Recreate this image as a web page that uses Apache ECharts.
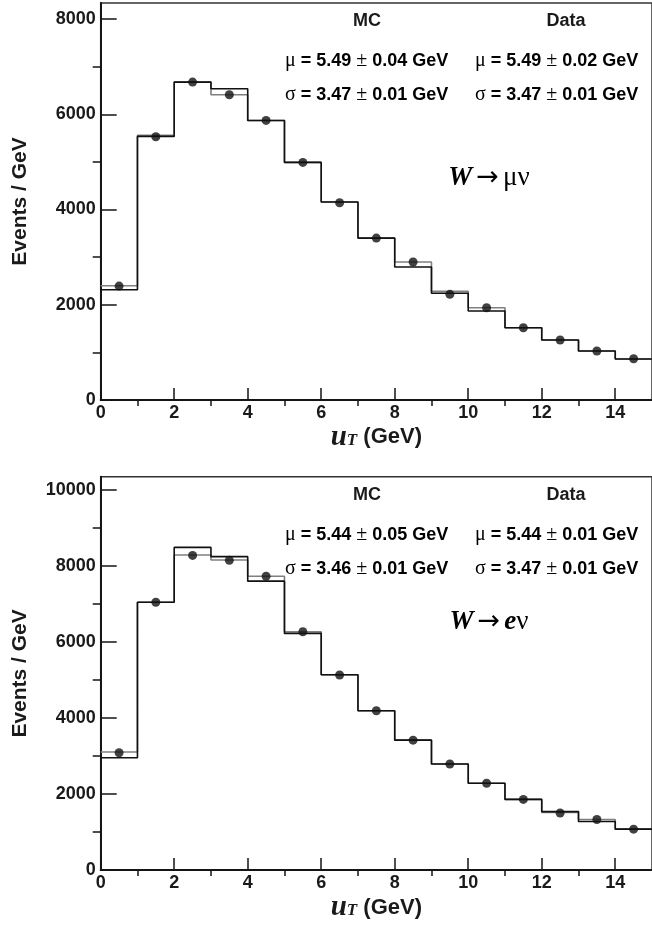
<!DOCTYPE html>
<html><head><meta charset="utf-8">
<script src="https://cdn.jsdelivr.net/npm/echarts@6/dist/echarts.min.js"></script>
<style>html,body{margin:0;padding:0;background:#fff}#c{width:652px;height:930px}</style>
</head><body><div id="c"></div>
<script>
// ---- data ----
const binEdges = [0,1,2,3,4,5,6,7,8,9,10,11,12,13,14,15];
const binCenters = [0.5,1.5,2.5,3.5,4.5,5.5,6.5,7.5,8.5,9.5,10.5,11.5,12.5,13.5,14.5];
const xMinorTicks = [1,3,5,7,9,11,13];

// W -> mu nu panel
const muPoints    = [2392,5527,6675,6409,5870,4989,4142,3400,2897,2218,1938,1518,1259,1028,866];
const muHistGray  = [2399,5556,6675,6409,5870,4989,4156,3400,2897,2281,1938,1518,1259,1028,861];
const muHistBlack = [2315,5535,6675,6535,5870,4989,4156,3400,2792,2240,1868,1518,1259,1028,861];
const muYMinorTicks = [1000,3000,5000,7000];
const muStatsMC   = ['5.49','0.04','3.47','0.01'];
const muStatsData = ['5.49','0.02','3.47','0.01'];

// W -> e nu panel
const ePoints    = [3087,7045,8277,8147,7730,6270,5130,4190,3418,2792,2285,1860,1503,1330,1077];
const eHistGray  = [3105,7045,8286,8156,7730,6270,5139,4190,3418,2792,2285,1860,1515,1330,1077];
const eHistBlack = [2956,7045,8487,8244,7600,6226,5139,4190,3418,2792,2285,1860,1539,1278,1077];
const eYMinorTicks = [1000,3000,5000,7000,9000];
const eStatsMC   = ['5.44','0.05','3.46','0.01'];
const eStatsData = ['5.44','0.01','3.47','0.01'];

// ---- layout / style ----
const SANS = 'Liberation Sans';
const SERIF = 'Liberation Serif';
const panels = [
  {top: 3, height: 397, ymax: 8336, pts: muPoints, gray: muHistGray, black: muHistBlack, minor: muYMinorTicks, mc: muStatsMC, dt: muStatsData, proc: 'mu', procY: 178},
  {top: 476.7, height: 397, ymax: 10347, pts: ePoints, gray: eHistGray, black: eHistBlack, minor: eYMinorTicks, mc: eStatsMC, dt: eStatsData, proc: 'e', procY: 622}
];
const gridLeft = 100.7, gridWidth = 553.5;

function steps(vals){ return binEdges.map((e,i)=>[e, vals[Math.min(i, vals.length-1)]]); }

const grid = [], xAxis = [], yAxis = [], series = [], graphic = [];
const axisCol = '#151515';
const txtCol = '#1a1a1a';
panels.forEach((p, k) => {
  grid.push({left: gridLeft, top: p.top, width: gridWidth, height: p.height, show: true, borderColor: '#333', borderWidth: 1.5, backgroundColor: 'transparent'});
  xAxis.push({
    type: 'value', gridIndex: k, min: 0, max: 15, interval: 2,
    axisLine: {show: true, onZero: false, lineStyle: {color: axisCol, width: 2}},
    axisTick: {show: true, inside: true, length: 12, lineStyle: {color: axisCol, width: 1.5}},
    splitLine: {show: false},
    axisLabel: {fontFamily: SANS, fontWeight: 'bold', fontSize: 18, color: txtCol, margin: 4, showMaxLabel: false,
      formatter: v => String(v)},
    name: '{u|u}{t|T}{g| (GeV)}', nameLocation: 'middle', nameGap: 25,
    nameTextStyle: {rich: {
      u: {fontFamily: SERIF, fontStyle: 'italic', fontWeight: 'bold', fontSize: 29, lineHeight: 26, padding: [0,0,7,0], color: txtCol},
      t: {fontFamily: SERIF, fontStyle: 'italic', fontWeight: 'bold', fontSize: 17, lineHeight: 17, color: txtCol},
      g: {fontFamily: SANS, fontWeight: 'bold', fontSize: 22, lineHeight: 26, padding: [0,0,7,0], color: txtCol}
    }}
  });
  xAxis.push({
    type: 'value', gridIndex: k, min: 0, max: 15,
    axisLine: {show: false}, splitLine: {show: false}, axisLabel: {show: false},
    axisTick: {show: true, inside: true, length: 6, customValues: xMinorTicks, lineStyle: {color: axisCol, width: 1.5}}
  });
  yAxis.push({
    type: 'value', gridIndex: k, min: 0, max: p.ymax, interval: 2000,
    axisLine: {show: true, onZero: false, lineStyle: {color: axisCol, width: 2}},
    axisTick: {show: true, inside: true, length: 16, lineStyle: {color: axisCol, width: 1.5}},
    splitLine: {show: false},
    axisLabel: {fontFamily: SANS, fontWeight: 'bold', fontSize: 18, color: txtCol, margin: 5, showMaxLabel: false,
      formatter: v => String(v)},
    name: 'Events / GeV', nameLocation: 'middle', nameGap: 70,
    nameTextStyle: {fontFamily: SANS, fontWeight: 'bold', fontSize: 21, color: txtCol}
  });
  yAxis.push({
    type: 'value', gridIndex: k, min: 0, max: p.ymax,
    axisLine: {show: false}, splitLine: {show: false}, axisLabel: {show: false},
    axisTick: {show: true, inside: true, length: 8, customValues: p.minor, lineStyle: {color: axisCol, width: 1.5}}
  });
  const xi = 2*k, yi = 2*k;
  series.push({type: 'line', xAxisIndex: xi, yAxisIndex: yi, step: 'end', data: steps(p.gray), symbol: 'none',
    lineStyle: {color: '#808080', width: 1.6}, z: 2});
  series.push({type: 'line', xAxisIndex: xi, yAxisIndex: yi, step: 'end', data: steps(p.black), symbol: 'none',
    lineStyle: {color: '#111', width: 1.6}, z: 3});
  series.push({type: 'scatter', xAxisIndex: xi, yAxisIndex: yi, data: binCenters.map((c,i)=>[c, p.pts[i]]),
    symbol: 'circle', symbolSize: 9, itemStyle: {color: '#111'}, z: 4});

  const off = p.top - 3;
  const rich = {
    s: {fontFamily: SERIF, fontSize: 20, color: txtCol},
    b: {fontFamily: SANS, fontWeight: 'bold', fontSize: 18, color: txtCol}
  };
  const head = {fontFamily: SANS, fontWeight: 'bold', fontSize: 18, fill: txtCol, align: 'center', verticalAlign: 'middle'};
  graphic.push({type: 'text', x: 367, y: 21 + off, style: Object.assign({text: 'MC'}, head)});
  graphic.push({type: 'text', x: 566, y: 21 + off, style: Object.assign({text: 'Data'}, head)});
  const rowsY = [61 + off, 95 + off];
  [[285, p.mc], [475, p.dt]].forEach(([x0, st]) => {
    graphic.push({type: 'text', x: x0, y: rowsY[0], style: {text: '{s|μ}{b| = ' + st[0] + ' }{s|±}{b| ' + st[1] + ' GeV}', rich, align: 'left', verticalAlign: 'middle'}});
    graphic.push({type: 'text', x: x0, y: rowsY[1], style: {text: '{s|σ}{b| = ' + st[2] + ' }{s|±}{b| ' + st[3] + ' GeV}', rich, align: 'left', verticalAlign: 'middle'}});
  });
  const wRich = {
    w: {fontFamily: SERIF, fontStyle: 'italic', fontWeight: 'bold', fontSize: 27, color: txtCol},
    a: {fontFamily: 'DejaVu Sans', fontSize: 27, color: txtCol, padding: [0,4,0,4]},
    n: {fontFamily: SERIF, fontSize: 27, color: txtCol}
  };
  const procText = p.proc === 'mu' ? '{w|W}{a|→}{n|μν}' : '{w|W}{a|→}{w|e}{n|ν}';
  graphic.push({type: 'text', x: 489, y: p.procY, style: {text: procText, rich: wRich, align: 'center', verticalAlign: 'middle'}});
});

const chart = echarts.init(document.getElementById('c'), null, {renderer: 'canvas'});
chart.setOption({animation: false, backgroundColor: '#fff', grid, xAxis, yAxis, series, graphic});
</script></body></html>
